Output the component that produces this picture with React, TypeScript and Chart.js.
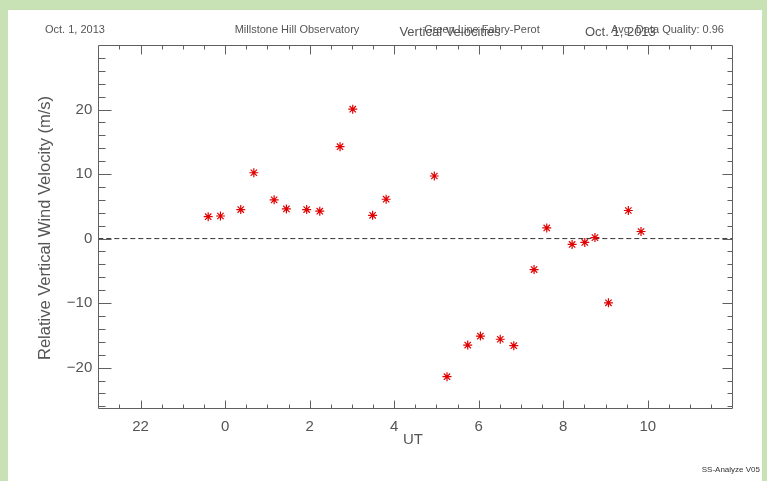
import React, { useEffect, useRef } from 'react';
import { Chart, registerables } from 'chart.js';

Chart.register(...registerables);

// ---- data ----
const utHours = [23.6, 23.89, 24.37, 24.68, 25.16, 25.45, 25.93, 26.24, 26.72, 27.02, 27.49, 27.81, 28.95, 29.25, 29.74, 30.04, 30.51, 30.83, 31.31, 31.61, 32.21, 32.51, 32.75, 33.07, 33.54, 33.84];
const velocities = [3.4, 3.5, 4.5, 10.2, 6.0, 4.6, 4.5, 4.25, 14.25, 20.06, 3.6, 6.1, 9.7, -21.4, -16.5, -15.1, -15.6, -16.6, -4.8, 1.65, -0.9, -0.6, 0.15, -9.95, 4.35, 1.1];
const xTickValues = [22, 24, 26, 28, 30, 32, 34];
const xTickLabels = ['22', '0', '2', '4', '6', '8', '10'];
const yTickValues = [-20, -10, 0, 10, 20];
const yTickLabels = ['\u221220', '\u221210', '0', '10', '20'];
const xRange = [21, 36];
const yRange = [-26.3, 30];
const zeroLineX = [21, 36];
const zeroLineY = [0, 0];

const FONT = '"Liberation Sans", Arial, sans-serif';
const TEXT = '#555555';
const AXIS = '#606060';

const decor = {
  id: 'decor',
  afterDraw(chart: any) {
    const ctx = chart.ctx as CanvasRenderingContext2D;
    const { left, right, top, bottom } = chart.chartArea;
    const sx = chart.scales.x;
    const sy = chart.scales.y;
    const L = Math.round(left) + 0.5;
    const R = Math.round(right) + 0.5;
    const T = Math.round(top) + 0.5;
    const B = Math.round(bottom) + 0.5;
    ctx.save();
    ctx.strokeStyle = AXIS;
    ctx.lineWidth = 1;
    ctx.beginPath();
    ctx.rect(L, T, R - L, B - T);
    // x ticks (bottom and top, inward)
    for (let v = xRange[0] + 0.5; v < xRange[1]; v += 0.5) {
      const major = Math.abs(v % 2) < 1e-9;
      const px = Math.round(sx.getPixelForValue(v)) + 0.5;
      const lb = major ? 8 : 4;
      const lt = major ? 9 : 4;
      ctx.moveTo(px, B);
      ctx.lineTo(px, B - lb);
      ctx.moveTo(px, T);
      ctx.lineTo(px, T + lt);
    }
    // y ticks (left and right, inward)
    for (let v = -26; v < yRange[1]; v += 2) {
      const major = Math.abs(v % 10) < 1e-9;
      const py = Math.round(sy.getPixelForValue(v)) + 0.5;
      const ll = major ? 13 : 7;
      const lr = major ? 10 : 5;
      ctx.moveTo(L, py);
      ctx.lineTo(L + ll, py);
      ctx.moveTo(R, py);
      ctx.lineTo(R - lr, py);
    }
    ctx.stroke();

    // header texts
    ctx.fillStyle = TEXT;
    ctx.textBaseline = 'alphabetic';
    ctx.font = `11px ${FONT}`;
    ctx.textAlign = 'left';
    ctx.fillText('Oct. 1, 2013', 37, 23);
    ctx.textAlign = 'center';
    ctx.fillText('Millstone Hill Observatory', 289, 23);
    ctx.fillText('Green Line Fabry-Perot', 474, 23);
    ctx.textAlign = 'left';
    ctx.fillText('Avg. Data Quality: 0.96', 603, 23);
    ctx.font = `13px ${FONT}`;
    ctx.textAlign = 'center';
    ctx.fillText('Vertical Velocities', 442, 26);
    ctx.textAlign = 'left';
    ctx.fillText('Oct. 1, 2013', 577, 26);

    // axis titles
    ctx.font = `15px ${FONT}`;
    ctx.textAlign = 'center';
    ctx.textBaseline = 'middle';
    ctx.fillText('UT', 405, 430);
    ctx.save();
    ctx.translate(37, 218);
    ctx.rotate(-Math.PI / 2);
    ctx.font = `16.5px ${FONT}`;
    ctx.fillText('Relative Vertical Wind Velocity (m/s)', 0, 0);
    ctx.restore();

    ctx.font = `8px ${FONT}`;
    ctx.textAlign = 'right';
    ctx.textBaseline = 'alphabetic';
    ctx.fillStyle = '#333';
    ctx.fillText('SS-Analyze V05', 752, 462);
    ctx.restore();
  },
};

export default function App() {
  const ref = useRef<HTMLCanvasElement>(null);
  useEffect(() => {
    if (!ref.current) return;
    const chart = new Chart(ref.current, {
      type: 'scatter',
      data: {
        datasets: [
          {
            data: utHours.map((x, i) => ({ x, y: velocities[i] })),
            pointStyle: 'star',
            pointRadius: 4.5,
            borderColor: '#e00000',
            backgroundColor: '#e00000',
            borderWidth: 1.2,
            showLine: false,
            order: 1,
          },
          {
            data: zeroLineX.map((x, i) => ({ x, y: zeroLineY[i] })),
            showLine: true,
            borderColor: '#333333',
            borderWidth: 1,
            borderDash: [5, 3],
            pointRadius: 0,
            order: 2,
          },
        ],
      },
      options: {
        responsive: false,
        animation: false,
        devicePixelRatio: 1,
        layout: { padding: { top: 35, right: 29.7, left: 0, bottom: 0 } },
        plugins: { legend: { display: false }, tooltip: { enabled: false } },
        scales: {
          x: {
            type: 'linear',
            min: xRange[0],
            max: xRange[1],
            afterBuildTicks: (s: any) => {
              s.ticks = xTickValues.map((v) => ({ value: v }));
            },
            afterFit: (s: any) => {
              s.height = 72.7;
            },
            grid: { display: false, drawTicks: false },
            border: { display: false },
            ticks: {
              padding: 10,
              color: TEXT,
              font: { family: FONT, size: 15 },
              maxRotation: 0,
              autoSkip: false,
              callback: (_v: any, i: number) => xTickLabels[i],
            },
          },
          y: {
            type: 'linear',
            min: yRange[0],
            max: yRange[1],
            afterBuildTicks: (s: any) => {
              s.ticks = yTickValues.map((v) => ({ value: v }));
            },
            afterFit: (s: any) => {
              s.width = 90.3;
            },
            grid: { display: false, drawTicks: false },
            border: { display: false },
            ticks: {
              padding: 6,
              color: TEXT,
              font: { family: FONT, size: 15 },
              autoSkip: false,
              callback: (_v: any, i: number) => yTickLabels[i],
            },
          },
        },
      },
      plugins: [decor],
    } as any);
    return () => chart.destroy();
  }, []);
  return (
    <div style={{ position: 'fixed', inset: 0, background: '#c8e2b6' }}>
      <div style={{ position: 'absolute', left: 8, top: 10, width: 754, height: 471, background: '#ffffff' }}>
        <canvas ref={ref} width={754} height={471} style={{ display: 'block' }} />
      </div>
    </div>
  );
}
